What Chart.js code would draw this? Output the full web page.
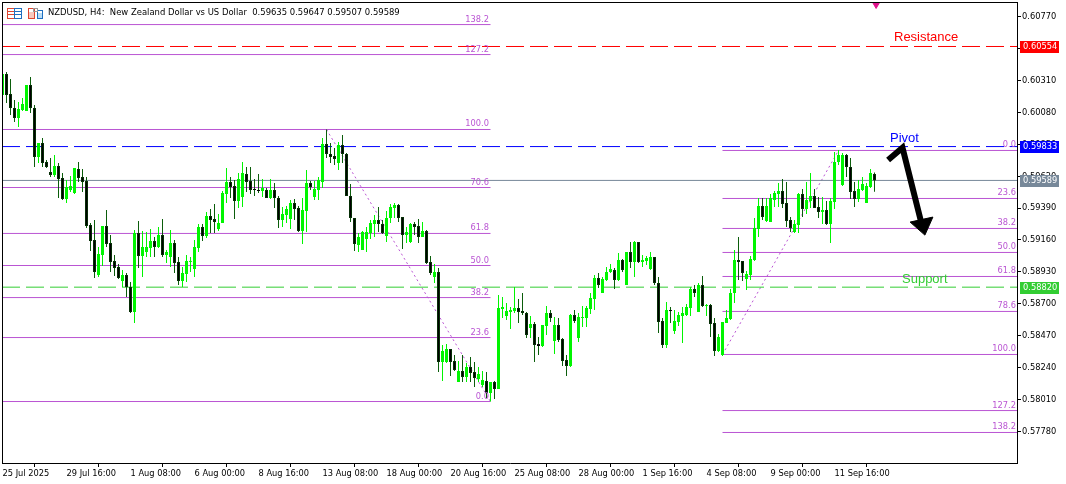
<!DOCTYPE html>
<html><head><meta charset="utf-8">
<style>html,body{margin:0;padding:0;background:#fff}canvas{display:block}</style>
<script src="https://cdn.jsdelivr.net/npm/chart.js@4"></script>
</head><body><canvas id="c" width="1066" height="484"></canvas>
<script>
const open=[0.60204,0.60356,0.60212,0.60111,0.60038,0.60096,0.60089,0.60277,0.60111,0.59758,0.59858,0.59722,0.59650,0.59628,0.59693,0.59606,0.59455,0.59520,0.59498,0.59671,
0.59614,0.59585,0.59268,0.59160,0.58908,0.59052,0.59261,0.59138,0.59009,0.58966,0.58865,0.58908,0.58822,0.58641,0.59210,0.59045,0.59074,0.59102,0.59153,0.59110,
0.59196,0.59052,0.59038,0.59138,0.59002,0.58865,0.58915,0.59002,0.58951,0.59102,0.59254,0.59189,0.59333,0.59311,0.59239,0.59282,0.59491,0.59578,0.59549,0.59441,
0.59470,0.59635,0.59585,0.59527,0.59520,0.59513,0.59520,0.59462,0.59520,0.59462,0.59304,0.59340,0.59311,0.59426,0.59390,0.59225,0.59369,0.59570,0.59470,0.59520,
0.59578,0.59851,0.59779,0.59765,0.59714,0.59844,0.59779,0.59477,0.59318,0.59124,0.59088,0.59167,0.59210,0.59275,0.59304,0.59275,0.59189,0.59318,0.59390,0.59412,
0.59326,0.59196,0.59146,0.59275,0.59261,0.59182,0.59225,0.59002,0.58894,0.58930,0.58281,0.58281,0.58374,0.58288,0.58137,0.58216,0.58173,0.58245,0.58209,0.58158,
0.58115,0.58144,0.58057,0.58137,0.58086,0.58663,0.58612,0.58641,0.58648,0.58670,0.58648,0.58633,0.58525,0.58554,0.58410,0.58396,0.58540,0.58633,0.58432,0.58547,
0.58446,0.58295,0.58252,0.58619,0.58453,0.58598,0.58598,0.58663,0.58735,0.58886,0.58778,0.58872,0.58930,0.58944,0.58872,0.59016,0.58836,0.59074,0.59002,0.59146,
0.59002,0.59009,0.58951,0.59038,0.58850,0.58576,0.58403,0.58655,0.58504,0.58569,0.58612,0.58619,0.58670,0.58807,0.58641,0.58836,0.58684,0.58691,0.58561,0.58360,
0.58331,0.58561,0.58590,0.58778,0.59016,0.59009,0.58879,0.58908,0.59016,0.59239,0.59405,0.59297,0.59290,0.59448,0.59491,0.59513,0.59426,0.59304,0.59218,0.59268,
0.59491,0.59383,0.59441,0.59477,0.59398,0.59362,0.59376,0.59275,0.59434,0.59722,0.59556,0.59772,0.59686,0.59513,0.59455,0.59520,0.59426,0.59542,0.59635];
const high=[0.60356,0.60370,0.60320,0.60169,0.60155,0.60183,0.60277,0.60334,0.60133,0.59858,0.59894,0.59736,0.59750,0.59772,0.59714,0.59642,0.59592,0.59621,0.59678,0.59722,
0.59671,0.59614,0.59282,0.59304,0.59110,0.59261,0.59376,0.59196,0.59052,0.58987,0.58944,0.58922,0.58858,0.59232,0.59297,0.59225,0.59218,0.59239,0.59182,0.59254,
0.59311,0.59088,0.59232,0.59160,0.59038,0.58966,0.59052,0.59038,0.59160,0.59275,0.59275,0.59362,0.59383,0.59419,0.59347,0.59513,0.59678,0.59614,0.59592,0.59642,
0.59722,0.59686,0.59686,0.59599,0.59635,0.59599,0.59534,0.59599,0.59570,0.59477,0.59398,0.59405,0.59448,0.59455,0.59405,0.59462,0.59664,0.59585,0.59585,0.59614,
0.59894,0.59956,0.59858,0.59822,0.59866,0.59916,0.59786,0.59563,0.59318,0.59210,0.59225,0.59254,0.59304,0.59340,0.59398,0.59304,0.59369,0.59419,0.59426,0.59419,
0.59326,0.59254,0.59282,0.59290,0.59311,0.59290,0.59232,0.59045,0.58987,0.58958,0.58403,0.58410,0.58374,0.58331,0.58288,0.58331,0.58273,0.58317,0.58281,0.58245,
0.58216,0.58209,0.58137,0.58144,0.58764,0.58750,0.58706,0.58677,0.58822,0.58735,0.58778,0.58641,0.58612,0.58569,0.58461,0.58547,0.58684,0.58655,0.58605,0.58598,
0.58453,0.58331,0.58626,0.58655,0.58633,0.58684,0.58684,0.58778,0.58908,0.58922,0.58894,0.58966,0.58987,0.58958,0.59066,0.59023,0.59074,0.59146,0.59153,0.59146,
0.59052,0.59045,0.59074,0.59038,0.58894,0.58598,0.58714,0.58677,0.58655,0.58641,0.58677,0.58699,0.58822,0.58836,0.58850,0.58901,0.58699,0.58699,0.58598,0.58482,
0.58569,0.58655,0.58807,0.59088,0.59182,0.59009,0.58937,0.59045,0.59318,0.59462,0.59462,0.59462,0.59491,0.59513,0.59570,0.59599,0.59578,0.59326,0.59304,0.59498,
0.59527,0.59578,0.59642,0.59527,0.59470,0.59470,0.59441,0.59462,0.59794,0.59808,0.59786,0.59779,0.59750,0.59578,0.59592,0.59614,0.59570,0.59671,0.59647];
const low=[0.60204,0.60147,0.60060,0.60010,0.59974,0.60089,0.60089,0.60074,0.59686,0.59714,0.59686,0.59678,0.59614,0.59614,0.59462,0.59448,0.59426,0.59506,0.59491,0.59578,
0.59506,0.59246,0.59081,0.58886,0.58894,0.58973,0.59110,0.58930,0.58901,0.58879,0.58822,0.58750,0.58633,0.58561,0.58958,0.58894,0.59038,0.59038,0.59038,0.59102,
0.59038,0.58994,0.58966,0.58922,0.58836,0.58822,0.58858,0.58930,0.58894,0.59074,0.59153,0.59174,0.59210,0.59210,0.59225,0.59282,0.59426,0.59462,0.59311,0.59390,
0.59398,0.59506,0.59491,0.59477,0.59498,0.59470,0.59462,0.59455,0.59390,0.59246,0.59254,0.59282,0.59239,0.59304,0.59218,0.59131,0.59218,0.59520,0.59448,0.59448,
0.59534,0.59750,0.59714,0.59700,0.59664,0.59714,0.59477,0.59290,0.59081,0.59074,0.59088,0.59074,0.59167,0.59182,0.59218,0.59203,0.59146,0.59282,0.59318,0.59290,
0.59095,0.59138,0.59138,0.59196,0.59138,0.59182,0.58987,0.58908,0.58850,0.58209,0.58144,0.58273,0.58180,0.58216,0.58137,0.58137,0.58137,0.58137,0.58101,0.58137,
0.58101,0.58021,0.57996,0.58014,0.58086,0.58598,0.58583,0.58518,0.58633,0.58561,0.58619,0.58453,0.58453,0.58281,0.58331,0.58389,0.58475,0.58569,0.58338,0.58425,
0.58252,0.58180,0.58245,0.58561,0.58425,0.58533,0.58533,0.58626,0.58655,0.58814,0.58778,0.58865,0.58922,0.58807,0.58865,0.58930,0.58836,0.58958,0.58894,0.58994,
0.58966,0.58980,0.58944,0.58836,0.58489,0.58381,0.58381,0.58561,0.58482,0.58540,0.58417,0.58612,0.58612,0.58750,0.58641,0.58677,0.58612,0.58461,0.58324,0.58353,
0.58324,0.58561,0.58583,0.58706,0.58872,0.58865,0.58800,0.58872,0.59009,0.59182,0.59304,0.59290,0.59290,0.59398,0.59398,0.59390,0.59254,0.59218,0.59210,0.59210,
0.59326,0.59347,0.59390,0.59390,0.59318,0.59275,0.59268,0.59138,0.59383,0.59700,0.59549,0.59614,0.59455,0.59398,0.59434,0.59513,0.59426,0.59534,0.59507];
const close=[0.60356,0.60204,0.60111,0.60038,0.60104,0.60140,0.60277,0.60111,0.59758,0.59858,0.59714,0.59686,0.59628,0.59693,0.59599,0.59455,0.59542,0.59549,0.59678,0.59606,
0.59578,0.59261,0.59153,0.58930,0.59059,0.59261,0.59131,0.59002,0.58958,0.58886,0.58908,0.58822,0.58641,0.59210,0.59045,0.59110,0.59110,0.59153,0.59110,0.59196,
0.59052,0.59074,0.59138,0.58994,0.58865,0.58922,0.59009,0.59009,0.59110,0.59254,0.59189,0.59333,0.59304,0.59290,0.59282,0.59498,0.59578,0.59542,0.59441,0.59599,
0.59642,0.59578,0.59520,0.59520,0.59513,0.59534,0.59462,0.59520,0.59462,0.59304,0.59347,0.59383,0.59426,0.59383,0.59225,0.59376,0.59570,0.59542,0.59527,0.59592,
0.59851,0.59779,0.59758,0.59743,0.59844,0.59779,0.59477,0.59318,0.59131,0.59182,0.59218,0.59218,0.59282,0.59304,0.59275,0.59210,0.59318,0.59398,0.59412,0.59318,
0.59196,0.59218,0.59275,0.59254,0.59182,0.59225,0.58994,0.58922,0.58930,0.58281,0.58360,0.58374,0.58281,0.58223,0.58216,0.58173,0.58245,0.58201,0.58165,0.58194,
0.58151,0.58057,0.58137,0.58086,0.58670,0.58677,0.58648,0.58655,0.58670,0.58641,0.58633,0.58475,0.58554,0.58403,0.58396,0.58547,0.58633,0.58598,0.58547,0.58439,
0.58288,0.58252,0.58619,0.58576,0.58605,0.58605,0.58670,0.58742,0.58886,0.58836,0.58879,0.58930,0.58951,0.58872,0.59016,0.58944,0.59074,0.59002,0.59146,0.59002,
0.59016,0.59030,0.59038,0.58850,0.58569,0.58403,0.58655,0.58648,0.58576,0.58619,0.58633,0.58677,0.58807,0.58778,0.58836,0.58684,0.58691,0.58554,0.58360,0.58461,
0.58569,0.58598,0.58778,0.59016,0.59002,0.58922,0.58915,0.59023,0.59246,0.59405,0.59326,0.59405,0.59462,0.59498,0.59513,0.59419,0.59297,0.59246,0.59275,0.59491,
0.59383,0.59448,0.59477,0.59390,0.59362,0.59376,0.59275,0.59441,0.59722,0.59772,0.59772,0.59686,0.59506,0.59455,0.59527,0.59563,0.59549,0.59642,0.59589];

const priceTicks=[0.60770,0.60540,0.60310,0.60080,0.59850,0.59620,0.59390,0.59160,0.58930,0.58700,0.58470,0.58240,0.58010,0.57780];
const timeTickBars=[0,16,32,48,64,80,96,112,128,144,160,176,192,208];
const timeTickLabels=["25 Jul 2025","29 Jul 16:00","1 Aug 08:00","6 Aug 00:00","8 Aug 16:00","13 Aug 08:00","18 Aug 00:00","20 Aug 16:00","25 Aug 08:00","28 Aug 00:00","1 Sep 16:00","4 Sep 08:00","9 Sep 00:00","11 Sep 16:00"];

const resistance=0.60554, pivot=0.59833, support=0.58820, lastPrice=0.59589;

const fibLeftDisplay=["138.2","127.2","100.0","70.6","61.8","50.0","38.2","23.6","0.0"];
const fibLeftPrices=[0.60712,0.60496,0.59956,0.59538,0.59207,0.58976,0.58745,0.58457,0.57996];
const fibRightNames=["0.0","23.6","38.2","50.0","61.8","78.6","100.0","127.2","138.2"];
const fibRightPrices=[0.59805,0.59459,0.59243,0.59070,0.58897,0.58645,0.58335,0.57931,0.57773];
const fibLeftBars=[-2,122], fibRightBars=[180,260];
const trendLeft=[[81,0.59956],[122,0.57996]], trendRight=[[180,0.58335],[209,0.59805]];
const arrowShaft=[[221.4,0.59736],[225,0.59825],[230,0.59250]];
const arrowHead=[[226.9,0.59289],[232.6,0.59325],[230.6,0.59195]];
const signalMark=[[218.4,0.60864]];

const PURPLE="#BA55D3", UP="#00F500", DOWNWICK="#0B5D0B", DOWNEDGE="#062E06";
const UIFONT='"DejaVu Sans Condensed","DejaVu Sans",sans-serif';

function hLine(y,x0,x1,color,dash,order){
  return {type:'line',data:[{x:x0,y:y},{x:x1,y:y}],borderColor:color,borderWidth:1,borderDash:dash||[],pointRadius:0,order:order||5,fill:false,tension:0};
}
const sets=[];
sets.push({type:'bar',data:open.map((o,i)=>({x:i,y:[o,close[i]]})),barThickness:3,grouped:false,order:1,inflateAmount:0,borderSkipped:false,
  backgroundColor:open.map((o,i)=>close[i]>=o?UP:"#000000"),borderColor:open.map((o,i)=>close[i]>=o?UP:DOWNEDGE),borderWidth:open.map((o,i)=>Math.abs(close[i]-o)>0.00014?1:0)});
sets.push({type:'bar',data:low.map((l,i)=>({x:i,y:[l,high[i]]})),barThickness:1,grouped:false,order:2,inflateAmount:0,borderWidth:0,
  backgroundColor:open.map((o,i)=>close[i]>=o?UP:DOWNWICK)});
fibLeftPrices.forEach(p=>sets.push(hLine(p,fibLeftBars[0],fibLeftBars[1],PURPLE)));
fibRightPrices.forEach(p=>sets.push(hLine(p,fibRightBars[0],fibRightBars[1],PURPLE)));
[trendLeft,trendRight].forEach(t=>sets.push({type:'line',data:t.map(a=>({x:a[0],y:a[1]})),borderColor:PURPLE,borderWidth:1,borderDash:[2,3],pointRadius:0,order:4,tension:0}));
sets.push(hLine(resistance,-0.125,260,"#FF0000",[18,6],3));
sets.push(hLine(pivot,-0.125,260,"#0000FF",[18,6],3));
sets.push(hLine(support,-0.125,260,"#32CD32",[18,6],3));
sets.push(hLine(lastPrice,-2,260,"#778899",[],3));
sets.push({type:'line',data:arrowShaft.map(a=>({x:a[0],y:a[1]})),borderColor:"#000",borderWidth:6,pointRadius:0,order:0,tension:0,borderJoinStyle:'miter'});
sets.push({type:'line',data:arrowHead.concat([arrowHead[0]]).map(a=>({x:a[0],y:a[1]})),borderColor:"#000",backgroundColor:"#000",borderWidth:1,pointRadius:0,order:0,tension:0,fill:'shape'});
sets.push({type:'scatter',data:signalMark.map(a=>({x:a[0],y:a[1]})),pointStyle:'triangle',rotation:180,pointRadius:5,backgroundColor:"#E0138C",borderColor:"#E0138C",order:0});

const overlay={id:'overlay',
  afterDraw(c){
    const g=c.ctx,X=c.scales.x,Y=c.scales.y;
    g.save();
    g.strokeStyle="#000";g.lineWidth=1;g.beginPath();
    g.moveTo(2.5,2);g.lineTo(2.5,464);g.moveTo(2,2.5);g.lineTo(1018,2.5);g.moveTo(1017.5,2);g.lineTo(1017.5,464);g.stroke();
    g.font='9.2px '+UIFONT;g.fillStyle=PURPLE;g.textAlign='right';g.textBaseline='alphabetic';
    fibLeftDisplay.forEach((n,i)=>g.fillText(n,489,Y.getPixelForValue(fibLeftPrices[i])-3));
    fibRightNames.forEach((n,i)=>g.fillText(n,1016,Y.getPixelForValue(fibRightPrices[i])-3));
    g.font='13px "Liberation Sans",Arial,sans-serif';g.textAlign='left';
    g.fillStyle="#FF0000";g.fillText("Resistance",894,41);
    g.fillStyle="#0000FF";g.fillText("Pivot",890,142);
    g.fillStyle="#32CD32";g.fillText("Support",902,283);
    g.font='9.2px '+UIFONT;g.textAlign='left';g.textBaseline='middle';
    [[resistance,"#FF0000","0.60554"],[pivot,"#0000FF","0.59833"],[lastPrice,"#778899","0.59589"],[support,"#32CD32","0.58820"]].forEach(t=>{
      const y=Math.floor(Y.getPixelForValue(t[0]));
      g.fillStyle=t[1];g.fillRect(1020,y-5,39,12);
      g.fillStyle="#fff";g.fillText(t[2],1023,y+1);
    });
    g.fillStyle="#000";g.textBaseline='middle';g.font='9.4px '+UIFONT;
    g.fillText("NZDUSD, H4:  New Zealand Dollar vs US Dollar  0.59635 0.59647 0.59507 0.59589",48,13);
    g.lineWidth=1;
    g.strokeStyle="#E0452F";g.strokeRect(7.5,8.5,7,10);
    g.strokeStyle="#1F6FC0";g.strokeRect(14.5,8.5,7,10);
    g.strokeStyle="#E0452F";g.beginPath();[11.5,14.5].forEach(y=>{g.moveTo(8,y);g.lineTo(14,y)});g.stroke();
    g.strokeStyle="#1F6FC0";g.beginPath();[11.5,14.5].forEach(y=>{g.moveTo(15,y);g.lineTo(21,y)});g.stroke();
    g.strokeStyle="#E0452F";g.strokeRect(28.5,8.5,6,10);
    g.fillStyle="#F7C8BE";g.fillRect(29,12,5,6);
    g.strokeStyle="#1F6FC0";g.strokeRect(37.5,10.5,5,8);
    g.fillStyle="#BBDDF5";g.fillRect(38,13,4,5);
    g.strokeStyle="#999";g.strokeRect(33.5,8.5,4,3);
    g.restore();
  }
};

new Chart(document.getElementById('c'),{
  type:'bar',
  data:{datasets:sets},
  plugins:[overlay],
  options:{
    responsive:false,animation:false,
    layout:{autoPadding:false,padding:{left:3,top:3,right:0,bottom:0}},
    plugins:{legend:{display:false},tooltip:{enabled:false}},
    scales:{
      x:{type:'linear',offset:false,min:0.125,max:253.625,
        afterBuildTicks(s){s.ticks=timeTickBars.map(v=>({value:v}))},
        afterFit(s){s.height=21;s.paddingLeft=0;s.paddingRight=0},
        grid:{display:true,drawOnChartArea:false,drawTicks:true,tickLength:4,color:"#000"},
        border:{display:true,color:"#000"},
        ticks:{autoSkip:false,maxRotation:0,minRotation:0,align:'start',padding:1,color:"#000",font:{family:UIFONT,size:9.2},
          callback(v){const k=timeTickBars.indexOf(v);return k>=0?timeTickLabels[k]:''}}
      },
      y:{type:'linear',position:'right',min:0.575531,max:0.608674,
        afterBuildTicks(s){s.ticks=priceTicks.map(v=>({value:v}))},
        afterFit(s){s.width=49;s.paddingTop=0;s.paddingBottom=0},
        grid:{display:true,drawOnChartArea:false,drawTicks:true,tickLength:4,color:"#000"},
        border:{display:true,color:"#000"},
        ticks:{autoSkip:false,padding:1,color:"#000",font:{family:UIFONT,size:9.2},callback(v){return v.toFixed(5)}}
      }
    }
  }
});
</script></body></html>
